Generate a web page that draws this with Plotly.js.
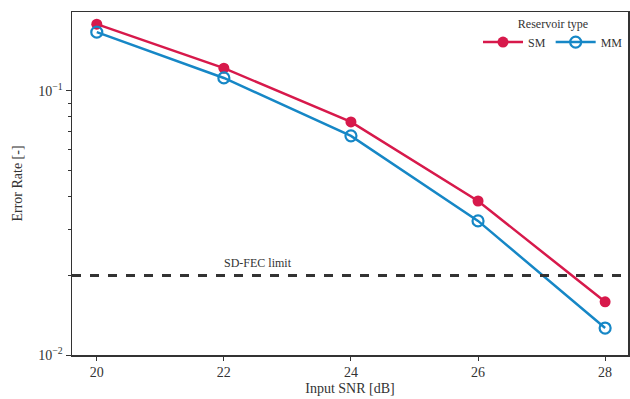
<!DOCTYPE html>
<html><head><meta charset="utf-8">
<script src="https://cdn.plot.ly/plotly-3.0.1.min.js"></script>
<style>html,body{margin:0;padding:0;background:#fff}#c{width:630px;height:399px}</style>
</head><body><div id="c"></div>
<script>
const snr = [20, 22, 24, 26, 28];
const smErr = [0.179, 0.122, 0.0763, 0.0383, 0.0159];
const mmErr = [0.167, 0.112, 0.0676, 0.0322, 0.01265];
const fecLimit = [0.02];
const yTickVals = [0.01, 0.1];
const yTickText = ['10<sup>−2</sup>', '10<sup>−1</sup>'];
const yMinorVals = [0.02,0.03,0.04,0.05,0.06,0.07,0.08,0.09,0.2];

const red = '#d7194b', blue = '#1687c6';
const traces = [
  {x: snr, y: smErr, name: 'SM', type: 'scatter', mode: 'lines+markers',
   line: {color: red, width: 2.5}, marker: {color: red, size: 11, symbol: 'circle'}},
  {x: snr, y: mmErr, name: 'MM', type: 'scatter', mode: 'lines+markers',
   line: {color: blue, width: 2.5}, marker: {color: blue, size: 11, symbol: 'circle-open', line: {width: 2.2, color: blue}}}
];
const layout = {
  width: 630, height: 399,
  margin: {l: 72, r: 2, t: 12, b: 44},
  paper_bgcolor: '#fff', plot_bgcolor: '#fff',
  font: {family: 'Liberation Serif, DejaVu Serif, serif', color: '#333', size: 13},
  showlegend: true,
  legend: {orientation: 'h', x: 1, xanchor: 'right', y: 1, yanchor: 'top',
           title: {text: 'Reservoir type', side: 'top center', font: {size: 12}},
           font: {size: 12}, bgcolor: 'rgba(255,255,255,0)', itemwidth: 40},
  xaxis: {range: [19.61, 28.36], tickvals: snr, ticks: 'outside', ticklen: 4, tickcolor: '#333',
          tickfont: {size: 14},
          showline: true, linecolor: '#333', linewidth: 1.5, mirror: true, showgrid: false, zeroline: false,
          title: {text: 'Input SNR [dB]', font: {size: 14}, standoff: 4}},
  yaxis: {type: 'log', range: [-2, -0.701], tickvals: yTickVals, ticktext: yTickText,
          ticks: 'outside', ticklen: 5, tickcolor: '#333', tickfont: {size: 14},
          minor: {tickvals: yMinorVals, ticks: 'outside', ticklen: 3, tickcolor: '#333', showgrid: false},
          showline: true, linecolor: '#333', linewidth: 1.5, mirror: true, showgrid: false, zeroline: false,
          title: {text: 'Error Rate [-]', font: {size: 14}, standoff: 12}},
  shapes: [{type: 'line', xref: 'paper', x0: 0, x1: 1, yref: 'y', y0: fecLimit[0], y1: fecLimit[0],
            line: {color: '#333', width: 3, dash: 'dash'}}],
  annotations: [{x: 22.53, y: Math.log10(fecLimit[0]), xref: 'x', yref: 'y', text: 'SD-FEC limit',
                 showarrow: false, yanchor: 'bottom', yshift: 4, font: {size: 12, color: '#333'}}]
};
Plotly.newPlot('c', traces, layout, {displayModeBar: false, staticPlot: true});
</script></body></html>
